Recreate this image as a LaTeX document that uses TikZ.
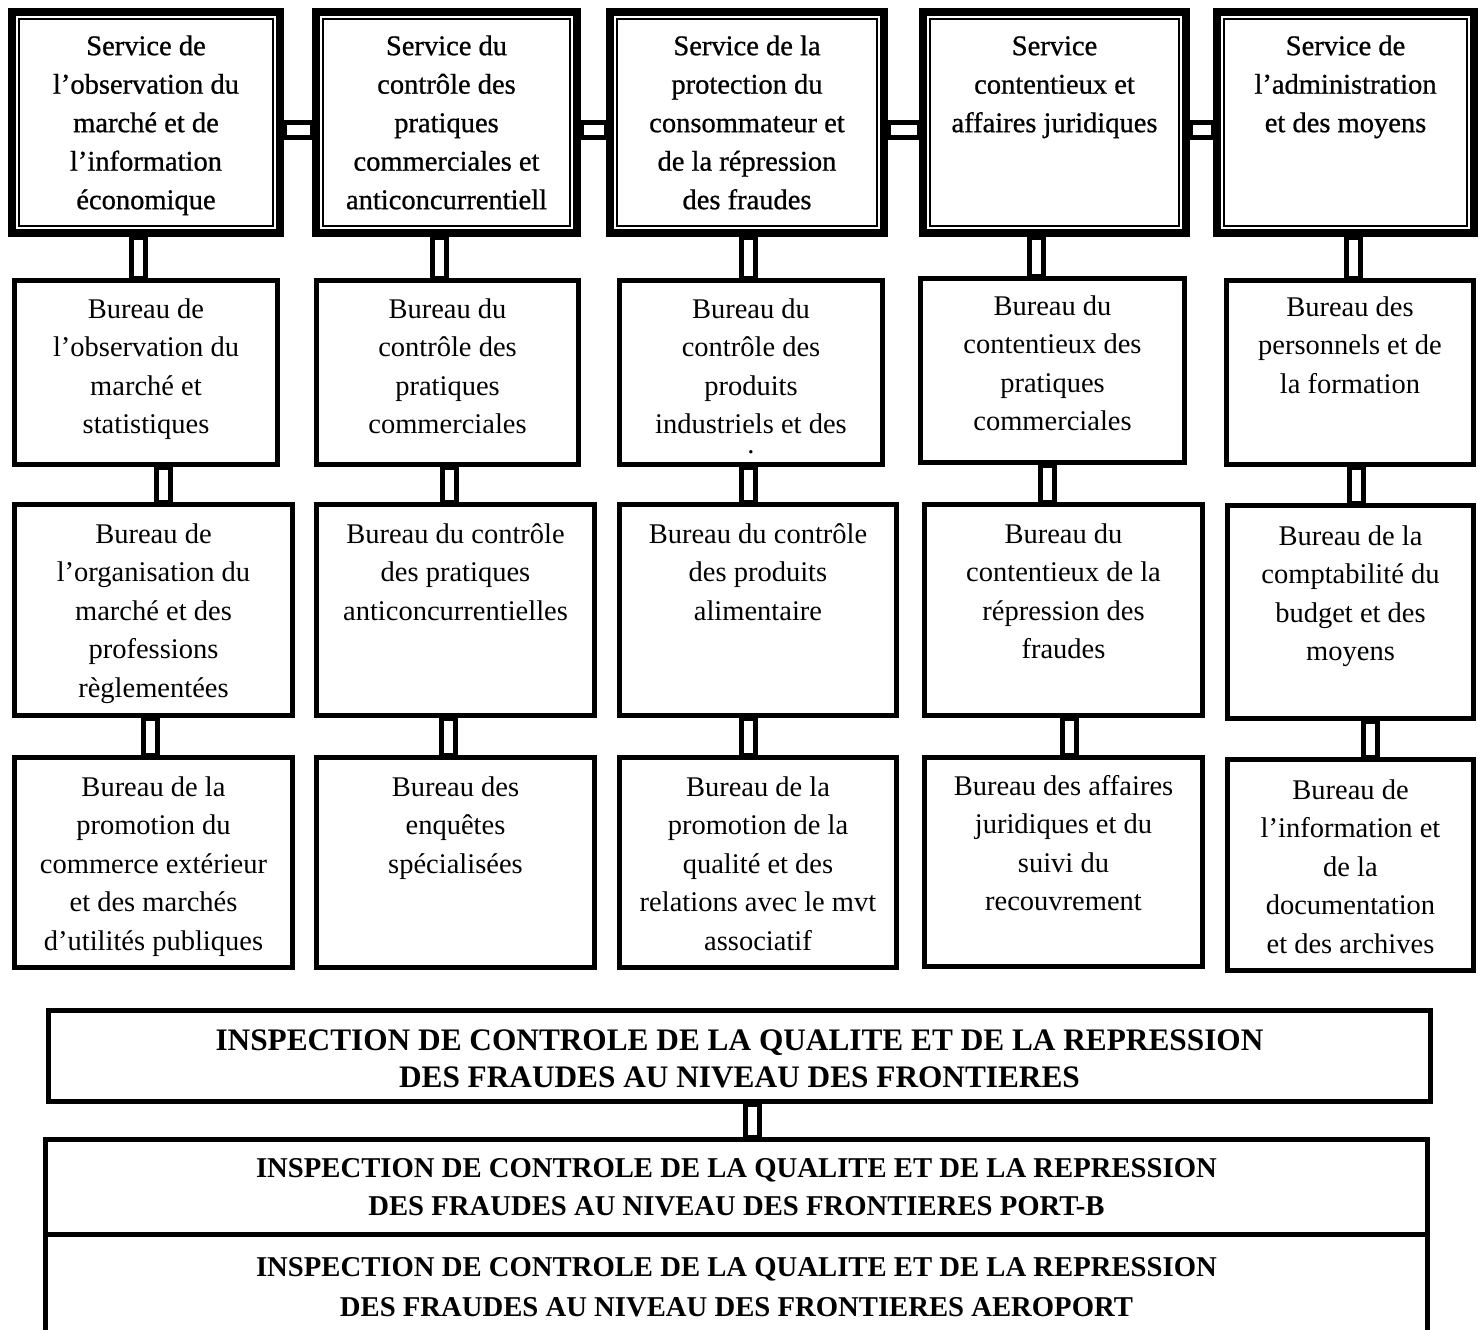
\documentclass[tikz,border=0pt]{standalone}
\usepackage{fontspec}
\setmainfont{Liberation Serif}
\newfontfamily\svcfont{Liberation Serif}[FakeBold=0.8]
\usetikzlibrary{calc}
\tikzset{
  svcbox/.style={draw, line width=8pt, inner sep=0pt, anchor=north west},
  burbox/.style={draw, line width=4.6pt, inner sep=0pt, anchor=north west},
  inspbox/.style={draw, line width=5pt, inner sep=0pt, anchor=north west},
  svctext/.style={anchor=north, align=center, inner sep=0pt, font=\svcfont\fontsize{28.5}{38.5}\selectfont},
  burtext/.style={anchor=north, align=center, inner sep=0pt, font=\fontsize{28.5}{38.5}\selectfont},
  insptextA/.style={anchor=north, align=center, inner sep=0pt, font=\bfseries\fontsize{31.3}{37}\selectfont},
  insptextB/.style={anchor=north, align=center, inner sep=0pt, font=\bfseries\fontsize{28.7}{38}\selectfont},
  insptextC/.style={anchor=north, align=center, inner sep=0pt, font=\bfseries\fontsize{28.7}{40}\selectfont},
  conn/.style={draw, line width=5pt},
  innerline/.style={draw, line width=2pt},
  openbox/.style={draw, line width=5pt},
}
\begin{document}
\begin{tikzpicture}[x=1pt,y=-1pt]
\useasboundingbox (0,0) rectangle (1480,1330);

% ---------- services ----------
\node[svcbox, minimum width=268pt, minimum height=221pt] (s1) at (8,8) {};
\node[svcbox, minimum width=261pt, minimum height=221pt] (s2) at (312,8) {};
\node[svcbox, minimum width=274pt, minimum height=221pt] (s3) at (606,8) {};
\node[svcbox, minimum width=263pt, minimum height=221pt] (s4) at (919,8) {};
\node[svcbox, minimum width=257pt, minimum height=221pt] (s5) at (1213,8) {};
\foreach \s in {s1,s2,s3,s4,s5}{
  \draw[innerline] ([shift={(11,11)}]\s.north west) rectangle ([shift={(-11,-11)}]\s.south east);
}
\node[svctext] (s1t) at ([yshift=-20pt]s1.north) {\strut Service de\\l’observation du\\marché et de\\l’information\\économique};
\node[svctext] (s2t) at ([yshift=-20pt]s2.north) {\strut Service du\\contrôle des\\pratiques\\commerciales et\\anticoncurrentiell};
\node[svctext] (s3t) at ([yshift=-20pt]s3.north) {\strut Service de la\\protection du\\consommateur et\\de la répression\\des fraudes};
\node[svctext] (s4t) at ([yshift=-20pt]s4.north) {\strut Service\\contentieux et\\affaires juridiques};
\node[svctext] (s5t) at ([yshift=-20pt]s5.north) {\strut Service de\\l’administration\\et des moyens};

% ---------- row 2 ----------
\node[burbox, minimum width=263.4pt, minimum height=184.4pt] (b11) at (12,278) {};
\node[burbox, minimum width=262.4pt, minimum height=184.4pt] (b12) at (314,278) {};
\node[burbox, minimum width=263.4pt, minimum height=184.4pt] (b13) at (617,278) {};
\node[burbox, minimum width=264.4pt, minimum height=184.4pt] (b14) at (918,276) {};
\node[burbox, minimum width=247.4pt, minimum height=184.4pt] (b15) at (1224,278) {};
\node[burtext] (b11t) at ([yshift=-13pt]b11.north) {\strut Bureau de\\l’observation du\\marché et\\statistiques};
\node[burtext] (b12t) at ([yshift=-13pt]b12.north) {\strut Bureau du\\contrôle des\\pratiques\\commerciales};
\node[burtext] (b13t) at ([yshift=-13pt]b13.north) {\strut Bureau du\\contrôle des\\produits\\industriels et des\\[-18.5pt].};
\node[burtext] (b14t) at ([yshift=-12pt]b14.north) {\strut Bureau du\\contentieux des\\pratiques\\commerciales};
\node[burtext] (b15t) at ([yshift=-11pt]b15.north) {\strut Bureau des\\personnels et de\\la formation};

% ---------- row 3 ----------
\node[burbox, minimum width=278.4pt, minimum height=211.4pt] (b21) at (12,502) {};
\node[burbox, minimum width=278.4pt, minimum height=211.4pt] (b22) at (314,502) {};
\node[burbox, minimum width=277.4pt, minimum height=211.4pt] (b23) at (617,502) {};
\node[burbox, minimum width=278.4pt, minimum height=211.4pt] (b24) at (922,502) {};
\node[burbox, minimum width=246.4pt, minimum height=213.4pt] (b25) at (1225,503) {};
\node[burtext] (b21t) at ([yshift=-14pt]b21.north) {\strut Bureau de\\l’organisation du\\marché et des\\professions\\règlementées};
\node[burtext] (b22t) at ([yshift=-14pt]b22.north) {\strut Bureau du contrôle\\des pratiques\\anticoncurrentielles};
\node[burtext] (b23t) at ([yshift=-14pt]b23.north) {\strut Bureau du contrôle\\des produits\\alimentaire};
\node[burtext] (b24t) at ([yshift=-14pt]b24.north) {\strut Bureau du\\contentieux de la\\répression des\\fraudes};
\node[burtext] (b25t) at ([yshift=-15pt]b25.north) {\strut Bureau de la\\comptabilité du\\budget et des\\moyens};

% ---------- row 4 ----------
\node[burbox, minimum width=278.4pt, minimum height=210.4pt] (b31) at (12,755) {};
\node[burbox, minimum width=278.4pt, minimum height=210.4pt] (b32) at (314,755) {};
\node[burbox, minimum width=277.4pt, minimum height=210.4pt] (b33) at (617,755) {};
\node[burbox, minimum width=278.4pt, minimum height=209.4pt] (b34) at (922,755) {};
\node[burbox, minimum width=246.4pt, minimum height=211.4pt] (b35) at (1225,757) {};
\node[burtext] (b31t) at ([yshift=-14pt]b31.north) {\strut Bureau de la\\promotion du\\commerce extérieur\\et des marchés\\d’utilités publiques};
\node[burtext] (b32t) at ([yshift=-14pt]b32.north) {\strut Bureau des\\enquêtes\\spécialisées};
\node[burtext] (b33t) at ([yshift=-14pt]b33.north) {\strut Bureau de la\\promotion de la\\qualité et des\\relations avec le mvt\\associatif};
\node[burtext] (b34t) at ([yshift=-13pt]b34.north) {\strut Bureau des affaires\\juridiques et du\\suivi du\\recouvrement};
\node[burtext] (b35t) at ([yshift=-15pt]b35.north) {\strut Bureau de\\l’information et\\de la\\documentation\\et des archives};

% ---------- inspections ----------
\node[inspbox, minimum width=1382pt, minimum height=91pt] (i1) at (46,1008) {};
\node[inspbox, minimum width=1382pt, minimum height=95pt] (i2) at (43,1137) {};
\node[outer sep=0pt, inner sep=0pt, anchor=north west, minimum width=1382pt, minimum height=100pt] (i3) at (45.5,1234.5) {};
\draw[openbox] (i3.south west) -- (i3.north west) -- (i3.north east) -- (i3.south east);
\node[insptextA] (i1t) at ([yshift=-16.6pt]i1.north) {\strut INSPECTION DE CONTROLE DE LA QUALITE ET DE LA REPRESSION\\DES FRAUDES AU NIVEAU DES FRONTIERES};
\node[insptextB] (i2t) at ([yshift=-13.4pt]i2.north) {\strut INSPECTION DE CONTROLE DE LA QUALITE ET DE LA REPRESSION\\DES FRAUDES AU NIVEAU DES FRONTIERES PORT-B};
\node[insptextC] (i3t) at ([yshift=-13.5pt]i3.north) {\strut INSPECTION DE CONTROLE DE LA QUALITE ET DE LA REPRESSION\\DES FRAUDES AU NIVEAU DES FRONTIERES AEROPORT};

% ---------- connectors ----------
\draw[conn] let \p1=(s1.east), \p2=(s2.west) in (\x1,\y1) rectangle (\x2,\y1-15pt);
\draw[conn] let \p1=(s2.east), \p2=(s3.west) in (\x1,\y1) rectangle (\x2,\y1-15pt);
\draw[conn] let \p1=(s3.east), \p2=(s4.west) in (\x1,\y1) rectangle (\x2,\y1-15pt);
\draw[conn] let \p1=(s4.east), \p2=(s5.west) in (\x1,\y1) rectangle (\x2,\y1-15pt);

\draw[conn] let \p1=(s1.south), \p2=(b11.north) in (131pt,\y1) rectangle (145pt,\y2);
\draw[conn] let \p1=(s2.south), \p2=(b12.north) in (432pt,\y1) rectangle (446pt,\y2);
\draw[conn] let \p1=(s3.south), \p2=(b13.north) in (741pt,\y1) rectangle (755pt,\y2);
\draw[conn] let \p1=(s4.south), \p2=(b14.north) in (1029pt,\y1) rectangle (1043pt,\y2);
\draw[conn] let \p1=(s5.south), \p2=(b15.north) in (1346pt,\y1) rectangle (1360pt,\y2);

\draw[conn] let \p1=(b11.south), \p2=(b21.north) in (156pt,\y1) rectangle (170pt,\y2);
\draw[conn] let \p1=(b12.south), \p2=(b22.north) in (442pt,\y1) rectangle (456pt,\y2);
\draw[conn] let \p1=(b13.south), \p2=(b23.north) in (741pt,\y1) rectangle (755pt,\y2);
\draw[conn] let \p1=(b14.south), \p2=(b24.north) in (1040pt,\y1) rectangle (1054pt,\y2);
\draw[conn] let \p1=(b15.south), \p2=(b25.north) in (1349pt,\y1) rectangle (1363pt,\y2);

\draw[conn] let \p1=(b21.south), \p2=(b31.north) in (143pt,\y1) rectangle (157pt,\y2);
\draw[conn] let \p1=(b22.south), \p2=(b32.north) in (441pt,\y1) rectangle (455pt,\y2);
\draw[conn] let \p1=(b23.south), \p2=(b33.north) in (741pt,\y1) rectangle (755pt,\y2);
\draw[conn] let \p1=(b24.south), \p2=(b34.north) in (1062pt,\y1) rectangle (1076pt,\y2);
\draw[conn] let \p1=(b25.south), \p2=(b35.north) in (1363pt,\y1) rectangle (1377pt,\y2);

\draw[conn] let \p1=(i1.south), \p2=(i2.north) in (745pt,\y1) rectangle (759pt,\y2);
\end{tikzpicture}
\end{document}
